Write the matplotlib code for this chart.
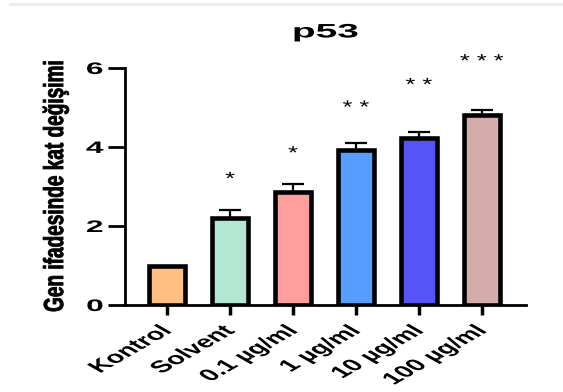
import matplotlib
matplotlib.use("Agg")
from matplotlib import pyplot as plt
from matplotlib.patheffects import AbstractPathEffect
from matplotlib.transforms import Affine2D
from matplotlib.lines import Line2D

groups = ["Kontrol", "Solvent", "0.1 µg/ml", "1 µg/ml", "10 µg/ml", "100 µg/ml"]
means = [1.0, 2.2, 2.86, 3.92, 4.22, 4.81]
sems = [0.0, 0.2, 0.21, 0.18, 0.16, 0.12]
stars = ["", "*", "*", "**", "**", "***"]
star_y = [0, 3.17, 3.82, 4.98, 5.55, 6.15]
colors = ["#FFBF80", "#B3E6D3", "#FF9E9E", "#559DFF", "#5555F5", "#D4ACAC"]


class StretchX(AbstractPathEffect):
    """Widen a text horizontally around its anchor point, optionally thickening it."""

    def __init__(self, text, sx, lw=0.0):
        super().__init__()
        self.text = text
        self.sx = sx
        self.lw = lw

    def draw_path(self, renderer, gc, tpath, affine, rgbFace=None):
        x0, y0 = self.text.get_transform().transform(self.text.get_position())
        t = affine + Affine2D().translate(-x0, -y0).scale(self.sx, 1).translate(x0, y0)
        gc0 = renderer.new_gc()
        gc0.copy_properties(gc)
        if self.lw and rgbFace is not None:
            gc0.set_linewidth(self.lw)
            gc0.set_foreground(rgbFace)
        renderer.draw_path(gc0, tpath, t, rgbFace)
        gc0.restore()


def stretch(text, sx, lw=0.0):
    text.set_path_effects([StretchX(text, sx, lw)])


plt.rcParams["font.family"] = ["Liberation Sans", "DejaVu Sans"]

fig = plt.figure(figsize=(5.63, 3.92), dpi=100)
fig.add_artist(Line2D([10 / 563, 1], [1 - 4 / 392] * 2, color="#EBEBEB", lw=2))
ax = fig.add_axes([125 / 563, 1 - 305 / 392, (526 - 125) / 563, (305 - 68) / 392])

x = list(range(len(groups)))
ax.bar(x, means, width=0.58, color=colors, edgecolor="black", linewidth=3.3, zorder=2)
ax.errorbar(x[1:], means[1:], yerr=[[0] * 5, sems[1:]], fmt="none", ecolor="black",
            elinewidth=1.6, capsize=8, capthick=1.6, zorder=1)

for xi, s, yy in zip(x, stars, star_y):
    if s:
        t = ax.text(xi, yy, " ".join(s), ha="center", va="center", fontsize=13)
        stretch(t, 1.4)

ax.set_xlim(-0.67, 5.7)
ax.set_ylim(0, 6)
ax.set_yticks([0, 2, 4, 6])
ax.set_xticks(x)
ax.set_xticklabels(groups, rotation=45, ha="right", va="center", rotation_mode="anchor",
                   fontsize=12, fontweight="bold")
for lab in ax.get_xticklabels():
    stretch(lab, 1.75)
for lab in ax.get_yticklabels():
    lab.set_fontsize(12)
    lab.set_fontweight("bold")
    stretch(lab, 1.9)

for side in ["top", "right"]:
    ax.spines[side].set_visible(False)
for side in ["left", "bottom"]:
    ax.spines[side].set_linewidth(2)
ax.tick_params(axis="y", length=12.5, width=2, pad=3)
ax.tick_params(axis="x", length=7, width=2.5, pad=10)

title = ax.set_title("p53", fontsize=14, fontweight="bold", pad=22)
stretch(title, 2.0)

ylab = ax.set_ylabel("Gen ifadesinde kat değişimi", fontsize=13.7, fontweight="bold")
ax.yaxis.set_label_coords(-0.14, 0.5)
stretch(ylab, 1.45, lw=0.6)

fig.savefig("out.png", dpi=100)
